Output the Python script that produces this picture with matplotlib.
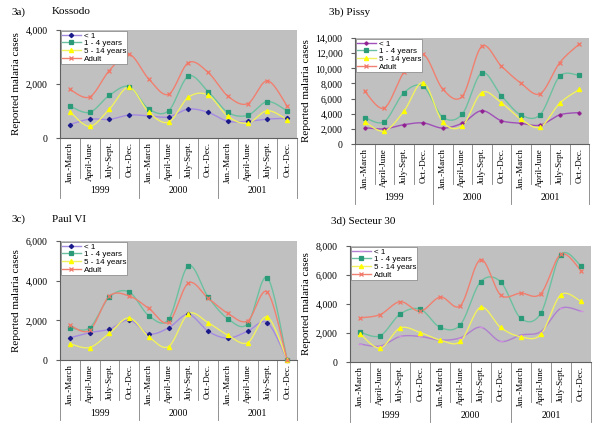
import numpy as np
import matplotlib
matplotlib.use("Agg")
import matplotlib.pyplot as plt
from matplotlib.transforms import blended_transform_factory
from matplotlib.lines import Line2D
from matplotlib.ticker import FuncFormatter

quarters = ["Jan.-March", "April-June", "July-Sept.", "Oct.-Dec."] * 3
years = ["1999", "2000", "2001"]
series_names = ["< 1", "1 - 4 years", "5 - 14 years", "Adult"]

# Panel a: Kossodo
kossodo_lt1 = [500, 700, 690, 850, 820, 780, 1070, 950, 620, 620, 700, 730]
kossodo_1_4 = [1180, 950, 1580, 1900, 1070, 1010, 2290, 1720, 950, 840, 1350, 1000]
kossodo_5_14 = [980, 430, 1070, 1880, 950, 590, 1510, 1590, 800, 550, 1010, 680]
kossodo_adult = [1800, 1520, 2500, 3100, 2180, 1620, 2790, 2430, 1550, 1270, 2120, 1180]

# Panel b: Pissy
pissy_lt1 = [2150, 2000, 2550, 2780, 2100, 2750, 4400, 3080, 2730, 2500, 3850, 4150]
pissy_1_4 = [3500, 2950, 6750, 7600, 3550, 3950, 9400, 6400, 3850, 3880, 8950, 9050]
pissy_5_14 = [2950, 1700, 4300, 8100, 2900, 2400, 6800, 5450, 3300, 2250, 5400, 7200]
pissy_adult = [6950, 4750, 9450, 11850, 7250, 6300, 12900, 10300, 8050, 6650, 10750, 13200]

# Panel c: Paul VI
paul_lt1 = [1120, 1380, 1550, 2020, 1320, 1620, 2300, 1450, 1100, 1450, 1880, 0]
paul_1_4 = [1630, 1620, 3170, 3430, 2230, 2050, 4750, 3180, 2080, 1820, 4150, 0]
paul_5_14 = [820, 630, 1350, 2120, 1170, 680, 2330, 1880, 1250, 870, 2170, 0]
paul_adult = [1750, 1500, 3220, 3230, 2600, 1900, 3880, 3120, 2350, 1970, 3420, 0]

# Panel d: Secteur 30
sect_lt1 = [1240, 1100, 1760, 1760, 1510, 1670, 2400, 1420, 1860, 2100, 3700, 3500]
sect_1_4 = [2060, 1810, 3310, 3640, 2380, 2580, 5530, 5530, 3020, 3360, 7410, 6630]
sect_5_14 = [1950, 960, 2350, 2030, 1510, 1420, 3770, 2380, 1740, 1900, 4640, 4180]
sect_adult = [3040, 3270, 4160, 3500, 4480, 3890, 7060, 4620, 4750, 4710, 7430, 6310]

SERIF = "Liberation Serif"
SANS = "Liberation Sans"
W, H = 600, 430


def smooth(y):
    """Excel-like smoothed line (Catmull-Rom Bezier) through the data points."""
    y = np.asarray(y, float)
    x = np.arange(len(y), dtype=float)
    pts = np.column_stack([x, y])
    n = len(pts)
    out = []
    t = np.linspace(0, 1, 30)
    for i in range(n - 1):
        p0 = pts[max(i - 1, 0)]
        p1 = pts[i]
        p2 = pts[i + 1]
        p3 = pts[min(i + 2, n - 1)]
        c1 = p1 + (p2 - p0) / 6.0
        c2 = p2 - (p3 - p1) / 6.0
        seg = ((1 - t)[:, None] ** 3 * p1 + 3 * ((1 - t) ** 2 * t)[:, None] * c1
               + 3 * ((1 - t) * t ** 2)[:, None] * c2 + (t ** 3)[:, None] * p2)
        out.append(seg if i == 0 else seg[1:])
    s = np.vstack(out)
    return s[:, 0], s[:, 1]


fig = plt.figure(figsize=(W / 100, H / 100), dpi=100)


def make_ax(left, right, top, bottom):
    return fig.add_axes([left / W, (H - bottom) / H, (right - left) / W, (bottom - top) / H])


panels = [
    dict(box=(60, 297, 30, 138), data=[kossodo_lt1, kossodo_1_4, kossodo_5_14, kossodo_adult],
         ymax=4000, step=2000, lt1_line="#a58be0", lt1_mk="#1a1a8a", lt1_marker="D"),
    dict(box=(355, 589, 38, 144), data=[pissy_lt1, pissy_1_4, pissy_5_14, pissy_adult],
         ymax=14000, step=2000, lt1_line="#a050b8", lt1_mk="#902090", lt1_marker="P"),
    dict(box=(60, 297, 241, 360), data=[paul_lt1, paul_1_4, paul_5_14, paul_adult],
         ymax=6000, step=2000, lt1_line="#a58be0", lt1_mk="#1a1a8a", lt1_marker="D"),
    dict(box=(350, 591, 246, 362), data=[sect_lt1, sect_1_4, sect_5_14, sect_adult],
         ymax=8000, step=2000, lt1_line="#b080d0", lt1_mk="#d090e0", lt1_marker="_"),
]

fmt = FuncFormatter(lambda v, p: f"{v:,.0f}")

for pn in panels:
    left, right, top, bottom = pn["box"]
    ax = make_ax(left, right, top, bottom)
    ax.set_facecolor("#c0c0c0")
    styles = [
        dict(lc=pn["lt1_line"], mc=pn["lt1_mk"], m=pn["lt1_marker"], ms=2.2),
        dict(lc="#6cc0a0", mc="#2a9a78", m="s", ms=2.4),
        dict(lc="#f0f060", mc="#ffff00", m="^", ms=3.0),
        dict(lc="#f08070", mc="#f07868", m="x", ms=3.0),
    ]
    handles = []
    for name, ys, st in zip(series_names, pn["data"], styles):
        sx, sy = smooth(ys)
        ax.plot(sx, sy, color=st["lc"], lw=1.0, zorder=2)
        ax.plot(np.arange(len(ys)), ys, ls="none", marker=st["m"], ms=st["ms"],
                color=st["mc"], mec=st["mc"], mew=0.9, zorder=3, clip_on=False)
        handles.append(Line2D([0], [0], color=st["lc"], lw=1.0, marker=st["m"], ms=st["ms"],
                              mfc=st["mc"], mec=st["mc"], mew=0.9))
    ax.set_xlim(-0.5, 11.5)
    ax.set_ylim(0, pn["ymax"])
    ax.set_yticks(np.arange(0, pn["ymax"] + 1, pn["step"]))
    ax.yaxis.set_major_formatter(fmt)
    ax.set_xticks([])
    for s in ["top", "right"]:
        ax.spines[s].set_visible(False)
    ax.spines["left"].set_color("#606060")
    ax.spines["bottom"].set_color("#606060")
    ax.spines["left"].set_linewidth(0.8)
    ax.spines["bottom"].set_linewidth(0.8)
    ax.tick_params(axis="y", length=3, width=0.8, color="#606060", pad=6, labelsize=7)
    for lab in ax.get_yticklabels():
        lab.set_fontfamily(SERIF)
    ax.set_ylabel("Reported malaria cases", fontfamily=SERIF, fontsize=8, labelpad=3)

    leg = ax.legend(handles, series_names, loc="upper left", bbox_to_anchor=(0, 1),
                    borderaxespad=0.1, frameon=True, fancybox=False,
                    edgecolor="#808080", framealpha=1, borderpad=0.15, labelspacing=0.0,
                    handlelength=2.3, handletextpad=0.4, prop={"family": SANS, "size": 5.8})
    leg.get_frame().set_linewidth(0.5)

    # multi-level category axis
    tr = blended_transform_factory(ax.transData, fig.transFigure)
    def fy(px):
        return (H - px) / H
    for i in range(13):
        long_line = (i % 4 == 0)
        end = bottom + (60 if long_line else 40)
        ax.add_line(Line2D([i - 0.5, i - 0.5], [fy(bottom), fy(end)], transform=tr,
                           color="#808080", lw=0.6, clip_on=False))
    for i, q in enumerate(quarters):
        ax.text(i, fy(bottom + 4), q, transform=tr, rotation=90, ha="center", va="top",
                fontfamily=SERIF, fontsize=6.5)
    for j, yr in enumerate(years):
        ax.text(4 * j + 1.5, fy(bottom + 53), yr, transform=tr, ha="center", va="center",
                fontfamily=SERIF, fontsize=7)

# panel titles
fig.text(12 / W, (H - 12) / H, "3a)", fontfamily=SERIF, fontsize=8, va="center")
fig.text(52 / W, (H - 12) / H, "Kossodo", fontfamily=SERIF, fontsize=8, va="center")
fig.text(329 / W, (H - 12) / H, "3b) Pissy", fontfamily=SERIF, fontsize=8, va="center")
fig.text(12 / W, (H - 219) / H, "3c)", fontfamily=SERIF, fontsize=8, va="center")
fig.text(52 / W, (H - 219) / H, "Paul VI", fontfamily=SERIF, fontsize=8, va="center")
fig.text(331 / W, (H - 221) / H, "3d) Secteur 30", fontfamily=SERIF, fontsize=8, va="center")

fig.savefig("out.png", dpi=100, facecolor="white")
